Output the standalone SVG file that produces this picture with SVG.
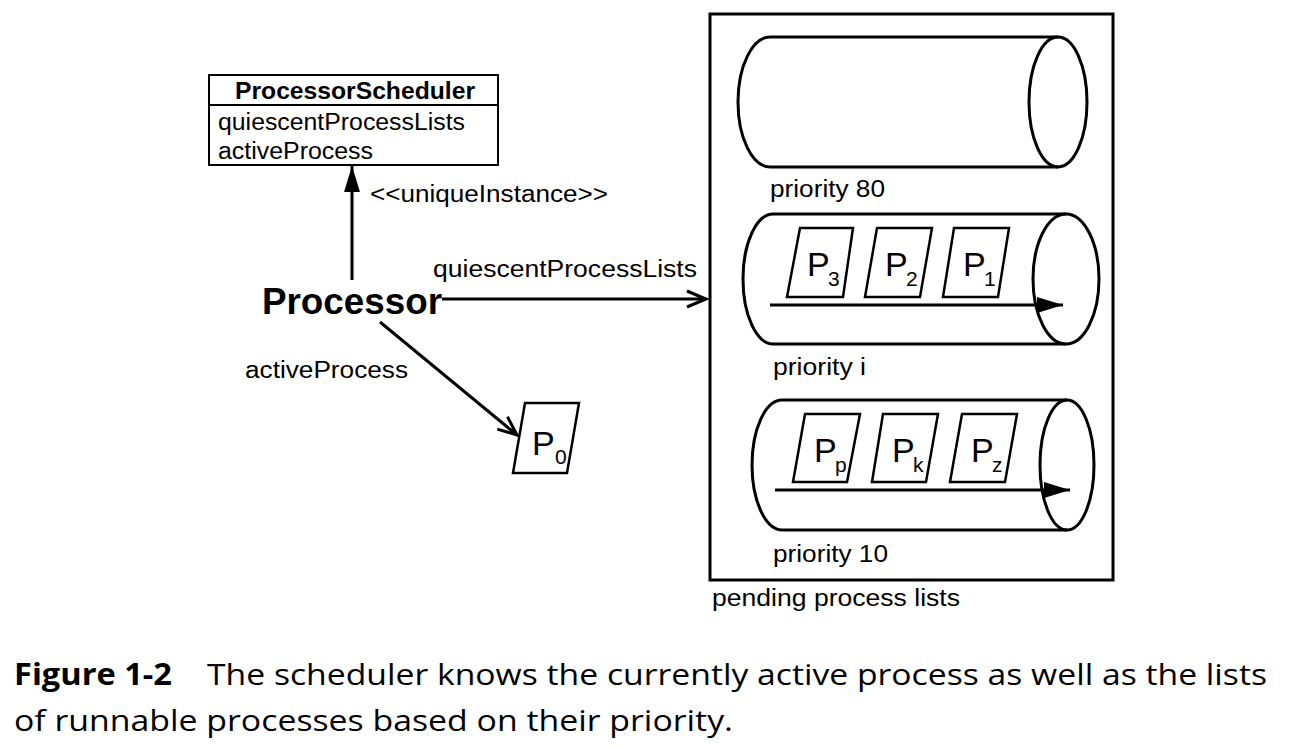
<svg xmlns="http://www.w3.org/2000/svg" width="1294" height="750" viewBox="0 0 1294 750">
<style>
text{font-family:"Liberation Sans",Arial,sans-serif;fill:#000}
.lbl{font-size:23px}
.b{font-weight:bold}
.cap{font-family:"Open Sans","Noto Sans",sans-serif;font-size:30px}
.shape{fill:none;stroke:#000;stroke-width:3}
.proc{fill:#fff;stroke:#000;stroke-width:2.5;stroke-linejoin:miter}
.pl{font-size:34px}
.sub{font-size:21px}
.conn{fill:none;stroke:#000;stroke-width:3}
</style>
<defs>
<marker id="open" markerUnits="userSpaceOnUse" markerWidth="24" markerHeight="20" refX="20" refY="9" orient="auto" overflow="visible">
<path d="M1,1 L20,9 L1,17" fill="none" stroke="#000" stroke-width="3"/>
</marker>
<marker id="filled" markerUnits="userSpaceOnUse" markerWidth="28" markerHeight="18" refX="26" refY="8" orient="auto" overflow="visible">
<path d="M0,0 L26,8 L0,16 Z" fill="#000"/>
</marker>
</defs>
<rect width="1294" height="750" fill="#fff"/>

<g id="processorScheduler">
<rect x="209" y="75" width="289" height="90" fill="#fff" stroke="#000" stroke-width="2"/>
<line x1="209" y1="105" x2="498" y2="105" stroke="#000" stroke-width="2"/>
<text class="lbl b" x="235" y="99" textLength="240" lengthAdjust="spacingAndGlyphs">ProcessorScheduler</text>
<text class="lbl" x="218" y="130" textLength="247" lengthAdjust="spacingAndGlyphs">quiescentProcessLists</text>
<text class="lbl" x="218" y="159" textLength="155" lengthAdjust="spacingAndGlyphs">activeProcess</text>
</g>

<g id="processor">
<text class="b" x="262" y="314" font-size="36" textLength="180" lengthAdjust="spacingAndGlyphs">Processor</text>
</g>

<g id="p0">
<polygon class="proc" points="525,403 579,403 567,473 513,473"/>
<text class="pl" x="532" y="455">P</text>
<text class="sub" x="555" y="464">0</text>
</g>

<g id="pendingLists">
<rect x="710" y="14" width="403" height="566" class="shape"/>
<text class="lbl" x="712" y="606" textLength="248" lengthAdjust="spacingAndGlyphs">pending process lists</text>
</g>

<g id="priority80">
<path class="shape" d="M770,37 A32,65 0 0 0 770,167 M770,37 L1058,37 M770,167 L1058,167"/>
<ellipse class="shape" cx="1058" cy="102" rx="29" ry="65"/>
<text class="lbl" x="770" y="197" textLength="115" lengthAdjust="spacingAndGlyphs">priority 80</text>
</g>

<g id="priorityI">
<path class="shape" d="M773,214 A30,65 0 0 0 773,344 M773,214 L1066,214 M773,344 L1066,344"/>
<ellipse class="shape" cx="1066" cy="279" rx="33" ry="65"/>
<polygon class="proc" points="800,228 853,228 843,297 787,297"/>
<text class="pl" x="807" y="276">P</text>
<text class="sub" x="828" y="286">3</text>
<polygon class="proc" points="877,228 932,228 920,297 865,297"/>
<text class="pl" x="885" y="276">P</text>
<text class="sub" x="906" y="286">2</text>
<polygon class="proc" points="954,228 1009,228 998,297 943,297"/>
<text class="pl" x="963" y="276">P</text>
<text class="sub" x="984" y="286">1</text>
<line class="conn" x1="770" y1="305" x2="1063" y2="305" marker-end="url(#filled)"/>
<text class="lbl" x="773" y="375" textLength="93" lengthAdjust="spacingAndGlyphs">priority i</text>
</g>

<g id="priority10">
<path class="shape" d="M782,400 A30,65 0 0 0 782,530 M782,400 L1067,400 M782,530 L1067,530"/>
<ellipse class="shape" cx="1067" cy="465" rx="27" ry="65"/>
<polygon class="proc" points="805,414 860,414 847,482 793,482"/>
<text class="pl" x="814" y="462">P</text>
<text class="sub" x="835" y="472">p</text>
<polygon class="proc" points="883,414 938,414 926,482 872,482"/>
<text class="pl" x="892" y="462">P</text>
<text class="sub" x="913" y="472">k</text>
<polygon class="proc" points="962,414 1017,414 1005,482 950,482"/>
<text class="pl" x="971" y="462">P</text>
<text class="sub" x="992" y="472">z</text>
<line class="conn" x1="775" y1="490" x2="1070" y2="490" marker-end="url(#filled)"/>
<text class="lbl" x="773" y="562" textLength="115" lengthAdjust="spacingAndGlyphs">priority 10</text>
</g>

<g id="connectors">
<line class="conn" x1="352" y1="280" x2="352" y2="166" marker-end="url(#filled)"/>
<line class="conn" x1="442" y1="299" x2="706" y2="299" marker-end="url(#open)"/>
<line class="conn" x1="380" y1="322" x2="517" y2="435" marker-end="url(#open)"/>
<text class="lbl" x="370" y="202" textLength="238" lengthAdjust="spacingAndGlyphs">&lt;&lt;uniqueInstance&gt;&gt;</text>
<text class="lbl" x="433" y="277" textLength="264" lengthAdjust="spacingAndGlyphs">quiescentProcessLists</text>
<text class="lbl" x="245" y="378" textLength="163" lengthAdjust="spacingAndGlyphs">activeProcess</text>
</g>

<g id="caption">
<text class="cap" font-weight="bold" x="14" y="685" textLength="158" lengthAdjust="spacingAndGlyphs">Figure 1-2</text>
<text class="cap" x="207" y="685" textLength="1060" lengthAdjust="spacingAndGlyphs">The scheduler knows the currently active process as well as the lists</text>
<text class="cap" x="14" y="731" textLength="719" lengthAdjust="spacingAndGlyphs">of runnable processes based on their priority.</text>
</g>
</svg>
